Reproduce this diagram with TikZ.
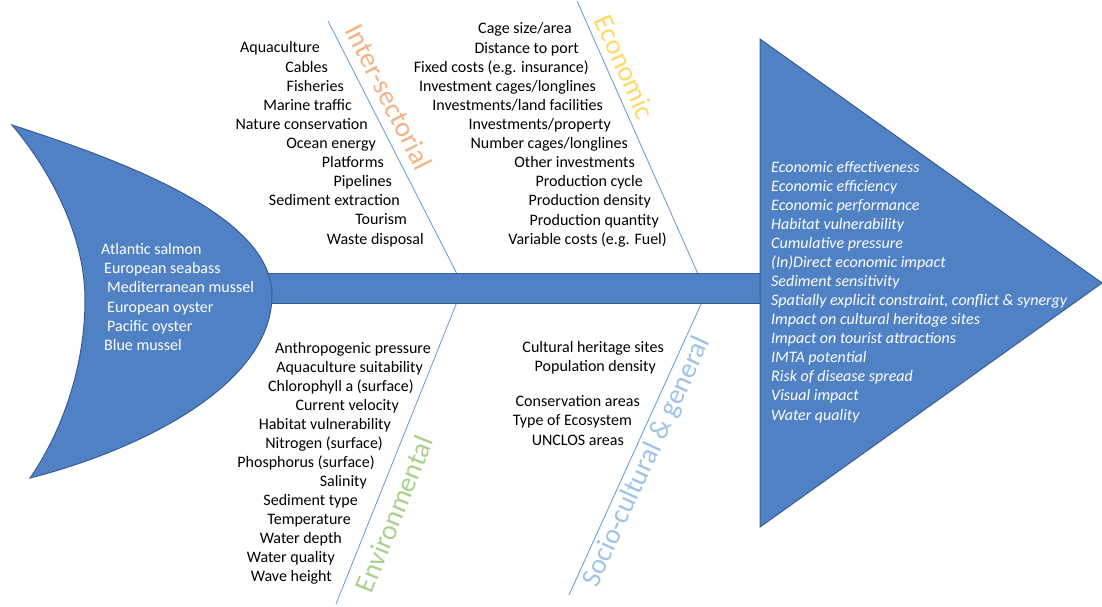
\documentclass[tikz,border=0pt]{standalone}
\usepackage{fontspec}
\setmainfont{Carlito}
\definecolor{fishblue}{RGB}{79,129,196}
\definecolor{fishedge}{RGB}{56,93,150}
\definecolor{bone}{RGB}{91,155,213}
\definecolor{cInter}{RGB}{244,177,131}
\definecolor{cEcon}{RGB}{255,217,102}
\definecolor{cEnv}{RGB}{169,209,142}
\definecolor{cSoc}{RGB}{157,195,230}
\begin{document}
\begin{tikzpicture}[x=1pt,y=-1pt,
 item/.style={font=\fontsize{16}{19}\selectfont, inner sep=0pt, anchor=base east},
 fishtext/.style={font=\fontsize{16}{19}\selectfont, inner sep=0pt, anchor=base west, text=white},
 headtext/.style={fishtext, font=\fontsize{16}{19}\selectfont\itshape},
 cat/.style={font=\fontsize{28}{32}\selectfont, inner sep=0pt},
 bodyshape/.style={fill=fishblue, draw=fishedge, line width=1pt},
 boneline/.style={draw=bone, line width=0.8pt}]
\useasboundingbox (0,0) rectangle (1102,607);

% bones
\coordinate (i1) at (328,21);  \coordinate (i2) at (457,274);
\coordinate (e1) at (577,1);   \coordinate (e2) at (698,274);
\coordinate (v1) at (457,302); \coordinate (v2) at (336,604);
\coordinate (s1) at (702,302); \coordinate (s2) at (569,595);
\draw[boneline] (i1) -- (i2);
\draw[boneline] (e1) -- (e2);
\draw[boneline] (v1) -- (v2);
\draw[boneline] (s1) -- (s2);

% spine, tail, head
\draw[bodyshape] (266,273) rectangle (764,303);
\draw[bodyshape] (12,125) .. controls (120,160) and (272,215) .. (272,295)
  .. controls (272,385) and (140,450) .. (30,478)
  .. controls (60,435) and (85,370) .. (85,300)
  .. controls (85,235) and (50,170) .. (12,125) -- cycle;
\draw[bodyshape] (760,39) -- (1102,283) -- (760,527) -- cycle;

% category labels
\node[cat, text=cInter, rotate=-63] (catInter) at (389,97) {Inter-sectorial};
\node[cat, text=cEcon, rotate=-65.9] (catEcon) at (625,67) {Economic};
\node[cat, text=cEnv, rotate=68] (catEnv) at (394,514) {Environmental};
\node[cat, text=cSoc, rotate=65.4] (catSoc) at (647,462) {Socio-cultural \& general};

% inter-sectorial items
\foreach \t/\x/\y [count=\i] in {Aquaculture/320/48, Cables/328/67.1, Fisheries/344/86.2,
  Marine traffic/352/105.3, Nature conservation/368/124.4, Ocean energy/376/143.5,
  Platforms/384/162.6, Pipelines/392/181.7, Sediment extraction/400/200.8,
  Tourism/407/219.9, Waste disposal/424/239}
  \node[item, name=int\i] at (\x,\y+5) {\t};

% economic items
\foreach \t/\x/\y [count=\i] in {{Cage size/area}/572/29, Distance to port/579/48.1,
  {Fixed costs (e.g. insurance)}/589/67.2, {Investment cages/longlines}/596/86.3,
  {Investments/land facilities}/603/105.4, {Investments/property}/611/124.5,
  {Number cages/longlines}/628/143.6, Other investments/635/162.7,
  Production cycle/643/181.8, Production density/651/200.9,
  Production quantity/659/220, {Variable costs (e.g. Fuel)}/667/239.1}
  \node[item, name=eco\i] at (\x,\y+5) {\t};

% environmental items
\foreach \t/\x/\y [count=\i] in {Anthropogenic pressure/431/348, Aquaculture suitability/423/367,
  {Chlorophyll a (surface)}/414/386, Current velocity/399/405, Habitat vulnerability/391/424,
  {Nitrogen (surface)}/383/443, {Phosphorus (surface)}/375/462, Salinity/367/481,
  Sediment type/358/500, Temperature/351/519, Water depth/342/538,
  Water quality/335/557, Wave height/332/576}
  \node[item, name=env\i] at (\x,\y+5) {\t};

% socio-cultural items
\foreach \t/\x/\y [count=\i] in {Cultural heritage sites/664/347, Population density/656/366,
  Conservation areas/640/401, Type of Ecosystem/632/420, UNCLOS areas/624/440}
  \node[item, name=soc\i] at (\x,\y+5) {\t};

% tail species
\foreach \t/\x/\y [count=\i] in {Atlantic salmon/101/249, European seabass/104/268,
  Mediterranean mussel/107/287, European oyster/107/307, Pacific oyster/107/326,
  Blue mussel/104/345}
  \node[fishtext, name=sp\i] at (\x,\y+5) {\t};

% head outcomes
\foreach \t [count=\i] in {Economic effectiveness, Economic efficiency, Economic performance,
  Habitat vulnerability, Cumulative pressure, (In)Direct economic impact,
  Sediment sensitivity, {Spatially explicit constraint, conflict \& synergy},
  Impact on cultural heritage sites, Impact on tourist attractions, IMTA potential,
  Risk of disease spread, Visual impact, Water quality}
  \node[headtext, name=out\i] at (771,{167+19.08*(\i-1)+5}) {\t};
\end{tikzpicture}
\end{document}
